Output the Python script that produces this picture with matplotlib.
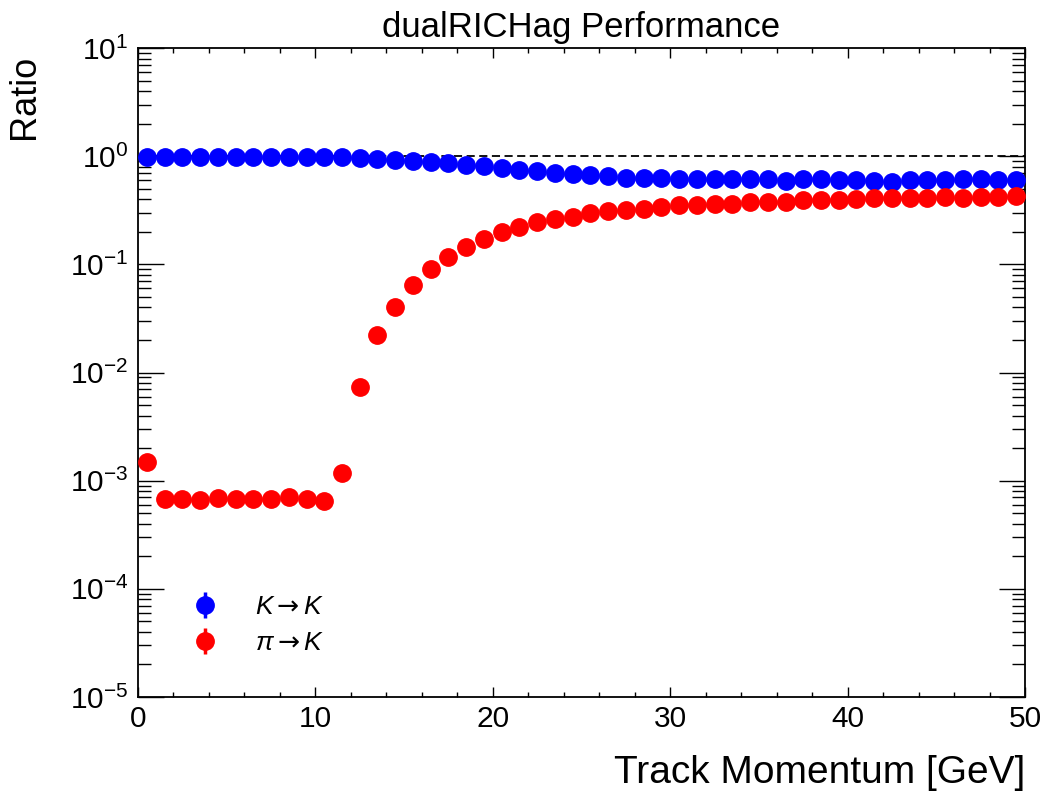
import numpy as np
import matplotlib
matplotlib.use("Agg")
import matplotlib.pyplot as plt
from matplotlib.font_manager import FontProperties
from matplotlib.ticker import LogLocator, NullFormatter, MultipleLocator

plt.rcParams["font.family"] = ["Liberation Sans", "DejaVu Sans"]
plt.rcParams["mathtext.fontset"] = "custom"
plt.rcParams["mathtext.rm"] = "Liberation Sans"
plt.rcParams["mathtext.it"] = "Liberation Sans:italic"
plt.rcParams["mathtext.sf"] = "DejaVu Sans"  # wider arrow glyph for the legend

# 1 GeV momentum bins, 0-50 GeV
bin_edges = np.arange(0, 51, 1.0)
momentum = 0.5 * (bin_edges[:-1] + bin_edges[1:])

# K -> K identification ratio
k_to_k = [0.986, 0.986, 0.986, 0.986, 0.986, 0.986, 0.986, 0.986, 0.986, 0.986,
          0.986, 0.986, 0.972, 0.945, 0.932, 0.905, 0.893, 0.862, 0.832, 0.808,
          0.786, 0.742, 0.727, 0.706, 0.691, 0.667, 0.658, 0.631, 0.631, 0.631,
          0.622, 0.622, 0.613, 0.622, 0.622, 0.613, 0.592, 0.622, 0.613, 0.600,
          0.600, 0.592, 0.583, 0.600, 0.600, 0.609, 0.617, 0.617, 0.600, 0.600]

# pi -> K mis-identification ratio
pi_to_k = [1.50e-3, 6.78e-4, 6.78e-4, 6.63e-4, 6.92e-4, 6.82e-4, 6.72e-4, 6.72e-4, 7.11e-4, 6.82e-4,
           6.54e-4, 1.17e-3, 7.3e-3, 0.0222, 0.0405, 0.0643, 0.0897, 0.117, 0.145, 0.173,
           0.200, 0.222, 0.244, 0.265, 0.276, 0.299, 0.310, 0.317, 0.324, 0.336,
           0.352, 0.352, 0.360, 0.365, 0.376, 0.376, 0.381, 0.392, 0.392, 0.392,
           0.398, 0.407, 0.412, 0.415, 0.412, 0.421, 0.415, 0.421, 0.421, 0.430]

# error bars are hidden behind the markers
k_err = np.zeros(len(k_to_k))
pi_err = np.zeros(len(pi_to_k))

fig = plt.figure(figsize=(10.5, 8.01), dpi=100)
ax = fig.add_axes([0.1314, 0.1298, 0.8448, 0.8102])

ax.axhline(1.0, color="black", lw=1.3, ls=(0, (4.5, 2.5)), zorder=1)
ax.errorbar(momentum, k_to_k, yerr=k_err, fmt="o", color="blue", ms=12.5,
            elinewidth=2.5, capsize=0, label=r"$K\mathsf{\rightarrow}K$", zorder=3)
ax.errorbar(momentum, pi_to_k, yerr=pi_err, fmt="o", color="red", ms=12.5,
            elinewidth=2.5, capsize=0, label=r"$\pi\mathsf{\rightarrow}K$", zorder=3)

ax.set_yscale("log")
ax.set_xlim(0, 50)
ax.set_ylim(1e-5, 10)
ax.xaxis.set_major_locator(MultipleLocator(10))
ax.xaxis.set_minor_locator(MultipleLocator(2))
ax.yaxis.set_major_locator(LogLocator(base=10, numticks=20))
ax.yaxis.set_minor_locator(LogLocator(base=10, subs=np.arange(2, 10), numticks=100))
ax.yaxis.set_minor_formatter(NullFormatter())

ax.tick_params(which="both", direction="in", top=True, right=True, width=1.0,
               labelsize=21.5)
ax.tick_params(axis="x", which="major", length=7.2, pad=6)
ax.tick_params(axis="x", which="minor", length=3.6)
ax.tick_params(axis="y", which="major", length=19, pad=7)
ax.tick_params(axis="y", which="minor", length=9.5)
for s in ax.spines.values():
    s.set_linewidth(1.3)

ax.set_xlabel("Track Momentum [GeV]", fontsize=28, loc="right")
ax.xaxis.set_label_coords(1.0, -0.09)
ax.set_ylabel("Ratio", fontsize=26, loc="top")
ax.yaxis.set_label_coords(-0.108, 0.99)
ax.set_title("dualRICHag Performance", fontsize=25, pad=8)

leg_font = FontProperties(family=["Liberation Sans", "DejaVu Sans"], size=19)
ax.legend(loc="center left", bbox_to_anchor=(0.061, 0.111), frameon=False,
          prop=leg_font, handlelength=1.0, handletextpad=1.4,
          labelspacing=0.45, borderpad=0, borderaxespad=0)

fig.savefig("out.png", dpi=100)
